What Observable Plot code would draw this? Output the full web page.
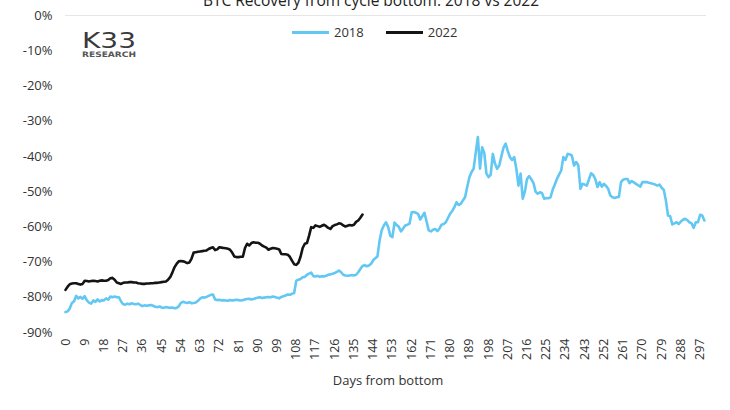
<!DOCTYPE html>
<html>
<head>
<meta charset="utf-8">
<script src="https://cdn.jsdelivr.net/npm/d3@7"></script>
<script src="https://cdn.jsdelivr.net/npm/@observablehq/plot@0.6"></script>
<style>
  html, body { margin: 0; padding: 0; background: #fff; overflow: hidden; }
  #wrap { position: relative; width: 730px; height: 410px; font-family: "Open Sans", sans-serif; color: #333; }
  #title { position: absolute; top: -11px; left: 0; width: 742px; text-align: center; font-size: 15.5px; color: #222; white-space: nowrap; }
  #legend { position: absolute; top: 23px; left: 292px; font-size: 13px; color: #333; display: flex; align-items: center; white-space: nowrap; }
  .sw { display: inline-block; width: 37px; height: 3px; margin-right: 5px; }
  #logo { position: absolute; top: 28px; left: 80px; overflow: visible; }
  #chart { position: absolute; top: 0; left: 0; }
</style>
</head>
<body>
<div id="wrap">
  <div id="chart"></div>
  <div id="title">BTC Recovery from cycle bottom: 2018 vs 2022</div>
  <div id="legend"></div>
  <svg id="logo" width="62" height="36" viewBox="0 0 62 36">
    <text x="2" y="20" font-family="DejaVu Sans, sans-serif" font-size="21.5" fill="#3a3a3a" textLength="54" lengthAdjust="spacingAndGlyphs">K33</text>
    <text x="2" y="29" font-family="DejaVu Sans, sans-serif" font-weight="bold" font-size="7.5" fill="#555" textLength="54" lengthAdjust="spacingAndGlyphs">RESEARCH</text>
  </svg>
</div>
<script>
// Series labels and colours
const seriesNames = ["2018", "2022"];
const seriesColors = ["#62C8F3", "#141414"];

// % change from the cycle bottom, one value per day (index = day from bottom)
const pct2018 = [
  -84.2,-84.0,-83.2,-81.6,-81.1,-79.6,-80.3,-79.9,-80.4,-79.7,
  -80.9,-81.5,-81.8,-80.9,-81.3,-80.6,-81.2,-80.8,-80.9,-80.3,
  -80.7,-79.8,-80.0,-79.8,-80.0,-80.0,-81.2,-82.0,-82.1,-81.8,
  -82.0,-81.7,-81.9,-82.0,-81.8,-82.2,-82.5,-82.3,-82.4,-82.3,
  -82.2,-82.4,-82.7,-82.8,-82.6,-82.9,-83.0,-82.8,-82.9,-83.0,
  -82.9,-83.1,-83.0,-82.6,-81.6,-81.3,-81.5,-81.6,-81.4,-81.7,
  -81.6,-81.5,-81.0,-80.4,-80.0,-80.1,-79.9,-79.6,-79.3,-79.2,
  -80.6,-80.8,-80.7,-80.9,-80.8,-80.9,-81.0,-80.8,-80.9,-80.8,
  -80.7,-80.8,-80.9,-80.8,-80.6,-80.5,-80.4,-80.6,-80.5,-80.3,
  -80.1,-80.0,-80.2,-80.1,-80.0,-79.9,-80.0,-79.8,-79.9,-80.1,
  -80.3,-79.9,-79.7,-79.5,-79.2,-79.3,-79.0,-78.8,-75.3,-75.0,
  -74.8,-74.3,-74.2,-73.6,-73.3,-73.0,-74.0,-74.1,-73.9,-74.2,
  -74.0,-74.1,-73.9,-73.6,-73.5,-73.3,-73.1,-72.8,-72.4,-72.9,
  -73.6,-73.8,-73.9,-73.8,-73.7,-73.8,-73.6,-72.9,-72.0,-71.1,
  -70.9,-71.2,-71.0,-70.5,-69.5,-68.9,-68.4,-63.9,-61.0,-59.6,
  -58.7,-60.0,-62.5,-62.9,-58.8,-59.5,-60.0,-61.3,-60.5,-59.6,
  -59.4,-59.1,-55.9,-55.8,-56.0,-56.3,-57.9,-57.0,-56.0,-58.5,
  -61.0,-61.3,-60.8,-60.6,-61.2,-60.5,-59.4,-59.2,-58.7,-57.5,
  -56.3,-55.5,-54.4,-53.0,-53.8,-53.5,-52.5,-51.6,-48.7,-46.0,
  -44.5,-43.5,-39.0,-34.5,-43.5,-37.4,-39.0,-44.9,-45.9,-45.2,
  -39.3,-42.0,-43.5,-42.6,-40.0,-37.5,-36.4,-38.5,-40.2,-41.0,
  -40.2,-43.5,-48.3,-44.9,-52.0,-50.0,-46.4,-45.6,-46.5,-47.5,
  -50.0,-50.6,-50.2,-50.4,-52.0,-51.8,-51.9,-51.6,-49.5,-48.0,
  -46.4,-45.2,-44.0,-40.2,-41.0,-39.3,-39.4,-39.8,-42.6,-41.6,
  -42.5,-49.2,-47.8,-48.0,-48.3,-46.5,-44.8,-45.3,-46.5,-48.7,
  -47.3,-48.6,-47.8,-48.4,-49.2,-51.1,-51.6,-51.8,-51.6,-51.5,
  -47.3,-46.6,-46.4,-46.4,-47.6,-47.0,-47.4,-47.8,-48.2,-48.6,
  -47.3,-47.3,-47.3,-47.5,-47.6,-47.8,-48.0,-48.3,-48.0,-48.9,
  -49.5,-52.5,-56.8,-57.0,-59.3,-59.0,-58.7,-59.2,-58.5,-58.0,
  -57.7,-58.1,-58.7,-59.0,-60.3,-58.7,-58.7,-56.6,-56.8,-58.2
];

const pct2022 = [
  -77.9,-77.0,-76.3,-76.1,-76.0,-76.0,-76.2,-76.4,-76.2,-75.3,
  -75.4,-75.5,-75.4,-75.3,-75.4,-75.5,-75.3,-75.2,-75.3,-75.3,
  -75.1,-74.6,-74.5,-75.0,-75.8,-76.0,-76.2,-75.9,-75.8,-75.8,
  -75.7,-75.7,-75.8,-75.8,-76.0,-76.1,-76.2,-76.2,-76.1,-76.1,
  -76.0,-76.0,-75.9,-75.9,-75.8,-75.7,-75.6,-75.5,-75.0,-74.3,
  -73.0,-71.5,-70.5,-69.8,-69.7,-69.8,-70.0,-70.3,-70.1,-69.0,
  -67.3,-67.2,-67.1,-67.0,-66.9,-66.8,-66.7,-66.3,-66.0,-65.8,
  -66.6,-66.4,-65.8,-65.9,-66.0,-66.1,-66.2,-66.5,-67.3,-68.4,
  -68.6,-68.6,-68.5,-68.5,-66.0,-64.8,-65.3,-64.6,-64.4,-64.5,
  -64.5,-64.8,-65.3,-65.6,-65.9,-66.5,-66.2,-66.0,-66.1,-66.2,
  -66.4,-67.7,-67.8,-67.8,-67.9,-68.5,-69.6,-70.6,-70.8,-70.2,
  -68.5,-66.0,-64.8,-64.6,-62.5,-60.1,-60.3,-59.6,-59.8,-60.0,
  -59.7,-59.4,-59.8,-60.3,-60.6,-59.8,-59.5,-59.3,-59.0,-59.1,
  -59.6,-59.9,-59.7,-59.5,-59.6,-59.4,-58.6,-58.2,-57.4,-56.5
];

// Axis ticks
const xTicks = d3.range(0, 298, 9);
const yTicks = [0, -10, -20, -30, -40, -50, -60, -70, -80, -90];

const rows = [
  ...pct2018.map((v, i) => ({ day: i, pct: v, series: seriesNames[0] })),
  ...pct2022.map((v, i) => ({ day: i, pct: v, series: seriesNames[1] }))
];

const chart = Plot.plot({
  width: 730,
  height: 410,
  marginLeft: 65,
  marginRight: 24,
  marginTop: 15,
  marginBottom: 78,
  style: { fontFamily: "'Open Sans', sans-serif", color: "#333", background: "transparent" },
  x: { domain: [0, 300] },
  y: { domain: [-90, 0] },
  color: { domain: seriesNames, range: seriesColors },
  marks: [
    Plot.ruleY([0], { stroke: "#e6e6e6", strokeWidth: 1.2 }),
    Plot.line(rows, { x: "day", y: "pct", z: "series", stroke: "series", strokeWidth: 2.6, strokeLinejoin: "round", strokeLinecap: "round" }),
    Plot.axisY({ ticks: yTicks, tickSize: 0, tickPadding: 13, tickFormat: d => `${d}%`, fontSize: 13, label: null }),
    Plot.axisX({ ticks: xTicks, tickSize: 0, tickPadding: 6, tickRotate: -90, fontSize: 12.5, label: null }),
    Plot.text(["Days from bottom"], { frameAnchor: "bottom", dy: 52, fontSize: 13, fill: "#333", dx: 2 })
  ]
});
document.getElementById("chart").appendChild(chart);

// Legend
const legend = document.getElementById("legend");
seriesNames.forEach((name, i) => {
  const item = document.createElement("span");
  item.style.display = "inline-flex";
  item.style.alignItems = "center";
  item.style.marginRight = "22px";
  const sw = document.createElement("span");
  sw.className = "sw";
  sw.style.background = seriesColors[i];
  const t = document.createElement("span");
  t.textContent = name;
  item.appendChild(sw);
  item.appendChild(t);
  legend.appendChild(item);
});
</script>
</body>
</html>
